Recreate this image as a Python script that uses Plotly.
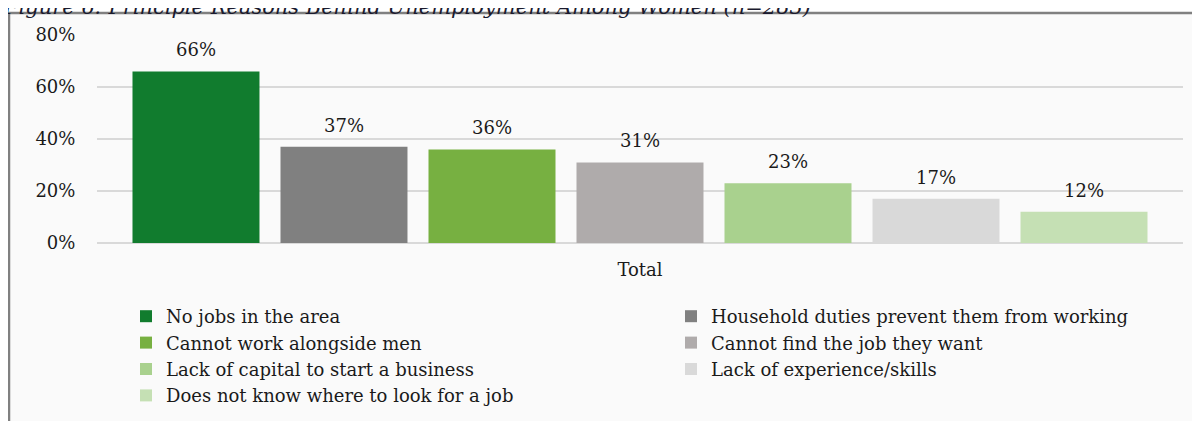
import plotly.graph_objects as go

category = ["Total"]
reasons = [
    "No jobs in the area",
    "Household duties prevent them from working",
    "Cannot work alongside men",
    "Cannot find the job they want",
    "Lack of capital to start a business",
    "Lack of experience/skills",
    "Does not know where to look for a job",
]
shares = [66, 37, 36, 31, 23, 17, 12]
colors = ["#117C2E", "#808080", "#77B041", "#AFABAB", "#A9D18E", "#D9D9D9", "#C5E0B4"]
y_ticks = [0, 20, 40, 60, 80]

FONT = "DejaVu Serif"
FS = 18
BARGAP = 0.046

# the page body adds an 8px offset, so work in page pixels and shift
OFF = 8
W, H = 1200, 421
plot_left, plot_right, plot_top, plot_bottom = 97, 1183, 35, 243  # page px
L = plot_left - OFF
T = plot_top - OFF
R = W - (plot_right - OFF)
B = H - (plot_bottom - OFF)
pw, ph = W - L - R, H - T - B


def px_x(px):
    return (px - plot_left) / pw


def px_y(py):
    return (plot_bottom - py) / ph


fig = go.Figure()
for name, val, col in zip(reasons, shares, colors):
    fig.add_trace(
        go.Bar(
            x=category,
            y=[val],
            name=name,
            marker=dict(color=col, line=dict(width=0)),
        )
    )

# value labels sit a bit higher above the bars than plotly's outside text
n = len(shares)
slot = (1 - BARGAP) / n
labels = [
    dict(
        text=f"{val}%",
        xref="x",
        yref="y",
        x=(i - (n - 1) / 2) * slot,
        y=val,
        yanchor="bottom",
        yshift=9,
        showarrow=False,
        font=dict(family=FONT, size=FS, color="#1a1a1a"),
    )
    for i, val in enumerate(shares)
]

title = dict(
    text="Figure 6: Principle Reasons Behind Unemployment Among Women (n=283)",
    xref="paper",
    yref="paper",
    x=px_x(1),
    xanchor="left",
    y=px_y(21),
    yanchor="bottom",
    showarrow=False,
    font=dict(family=FONT, size=21, color="#1a1a2e", style="italic"),
)

fig.update_layout(
    width=W,
    height=H,
    margin=dict(l=L, r=R, t=T, b=B, pad=0, autoexpand=False),
    barmode="group",
    bargap=BARGAP,
    bargroupgap=0.142,
    paper_bgcolor="white",
    plot_bgcolor="#fafafa",
    font=dict(family=FONT, size=FS, color="#1a1a1a"),
    showlegend=True,
    legend=dict(
        orientation="h",
        x=px_x(126),
        xanchor="left",
        y=px_y(298),
        yanchor="top",
        entrywidth=500,
        entrywidthmode="pixels",
        font=dict(family=FONT, size=FS, color="#1a1a1a"),
        bgcolor="rgba(0,0,0,0)",
        traceorder="normal",
        itemwidth=30,
        tracegroupgap=0,
    ),
    shapes=[
        dict(
            type="rect",
            xref="paper",
            yref="paper",
            x0=px_x(9),
            x1=px_x(1260),
            y0=px_y(480),
            y1=px_y(13),
            line=dict(color="#808080", width=2.5),
            fillcolor="#fafafa",
            layer="below",
        )
    ],
    annotations=labels + [title],
)

fig.update_xaxes(
    type="category",
    showgrid=False,
    showline=False,
    ticks="outside",
    ticklen=10,
    tickcolor="rgba(0,0,0,0)",
    tickfont=dict(family=FONT, size=FS),
)
fig.update_yaxes(
    range=[0, 80],
    tickvals=y_ticks,
    ticktext=[f"{v}%" for v in y_ticks],
    showgrid=True,
    gridcolor="#d9d9d9",
    gridwidth=1.5,
    zeroline=True,
    zerolinecolor="#d9d9d9",
    zerolinewidth=1.5,
    showline=False,
    ticks="outside",
    ticklen=17,
    tickcolor="rgba(0,0,0,0)",
    tickfont=dict(family=FONT, size=FS),
)

fig.write_html("out.html")
